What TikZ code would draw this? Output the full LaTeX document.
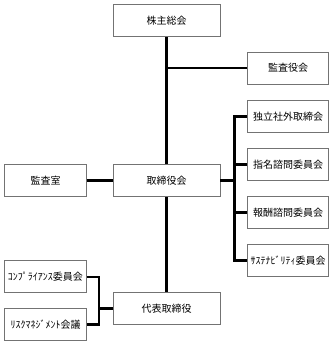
\documentclass[tikz,border=0pt]{standalone}
\usepackage{fontspec}
\setmainfont{Noto Sans CJK JP}
\begin{document}
\begin{tikzpicture}[x=1pt,y=-1pt,
  box/.style={draw=black!55,line width=0.9pt,fill=white,inner sep=0pt,font=\fontsize{10}{12}\selectfont},
  wide/.style={box,minimum width=107pt,minimum height=32pt},
  small/.style={box,minimum width=81.5pt,minimum height=32pt},
  conn/.style={line width=2.2pt,black}]
\useasboundingbox (0,0) rectangle (333,345);
\node[wide] (soukai) at (166.5,20.5) {株主総会};
\node[small] (kansayaku) at (288,68) {監査役会};
\node[small] (dokuritsu) at (288,116.5) {独立社外取締会};
\node[small] (shimei) at (288,164.5) {指名諮問委員会};
\node[small] (houshu) at (288,212.5) {報酬諮問委員会};
\node[small] (sustain) at (288,260.5) {ｻｽﾃﾅﾋﾞﾘﾃｨ委員会};
\node[wide] (torishimari) at (166.5,180.5) {取締役会};
\node[small] (kansashitsu) at (45.5,180.5) {監査室};
\node[wide] (daihyo) at (166.5,308.5) {代表取締役};
\node[small] (compliance) at (45.5,276.7) {ｺﾝﾌﾟﾗｲｱﾝｽ委員会};
\node[small] (risk) at (45.5,324.5) {ﾘｽｸﾏﾈｼﾞﾒﾝﾄ会議};
\coordinate (rb) at (234.5,180.5);
\coordinate (lb) at (99.3,308.5);
\draw[conn] (soukai.south) -- (torishimari.north);
\draw[conn] (torishimari.south) -- (daihyo.north);
\draw[conn] (kansayaku.west) -- (kansayaku.west -| soukai.south);
\draw[conn] (kansashitsu.east) -- (torishimari.west);
\draw[conn] (torishimari.east) -- (rb);
\draw[conn] (dokuritsu.west) -| (rb) |- (sustain.west);
\draw[conn] (shimei.west) -- (shimei.west -| rb);
\draw[conn] (houshu.west) -- (houshu.west -| rb);
\draw[conn] (daihyo.west) -- (lb);
\draw[conn] (compliance.east) -| (lb) |- (risk.east);
\end{tikzpicture}
\end{document}
